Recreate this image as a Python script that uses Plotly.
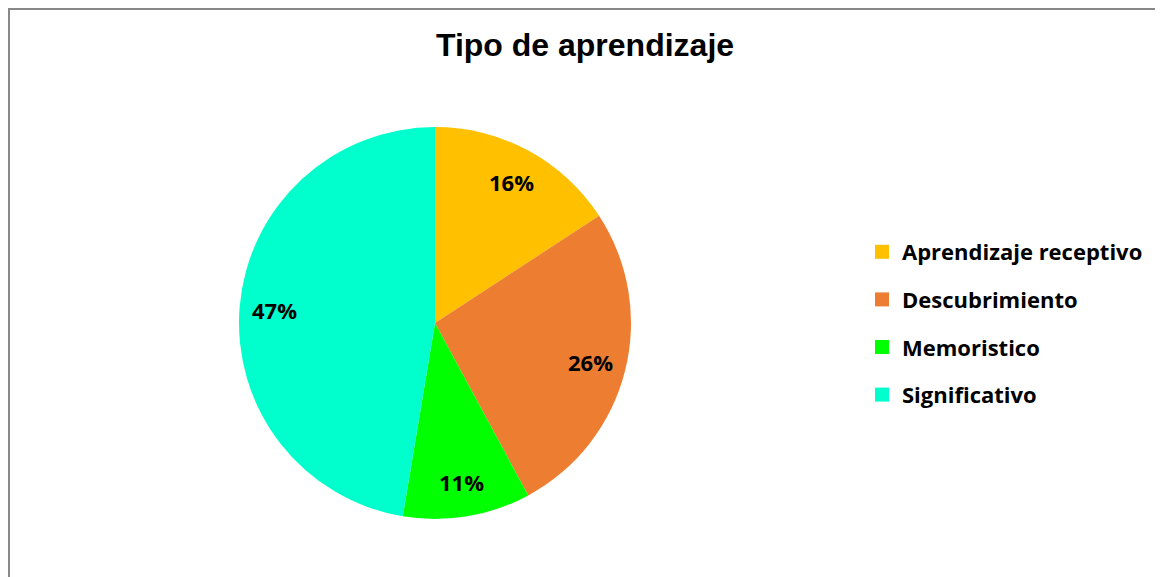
import math
import plotly.graph_objects as go

categories = ["Aprendizaje receptivo", "Descubrimiento", "Memoristico", "Significativo"]
values = [3, 5, 2, 9]
colors = ["#FFC000", "#ED7D31", "#00FF00", "#00FFCC"]
title_text = "Tipo de aprendizaje"

W, H = 1163, 577
OFF = 8  # page body margin offset
cx, cy, r = 435 - OFF, 323 - OFF, 196
label_font = dict(family="Open Sans", size=22, color="black", weight="bold")

fig = go.Figure()
fig.add_trace(go.Pie(
    labels=categories, values=values, sort=False, direction="clockwise",
    rotation=0, marker=dict(colors=colors, line=dict(width=0)),
    textinfo="none", showlegend=False, hoverinfo="label+percent",
    domain=dict(x=[(cx - r) / W, (cx + r) / W], y=[1 - (cy + r) / H, 1 - (cy - r) / H]),
))

# data labels placed along slice bisectors (Excel-style, ~0.82 of radius)
total = sum(values)
annotations = []
cum = 0
for v in values:
    mid = (cum + v / 2) / total
    cum += v
    th = 2 * math.pi * mid
    px = cx + 0.82 * r * math.sin(th)
    py = cy - 0.82 * r * math.cos(th)
    annotations.append(dict(x=px / W, y=1 - py / H, xref="paper", yref="paper",
                            text=f"{round(100 * v / total)}%", showarrow=False,
                            xanchor="center", yanchor="middle", font=label_font))

for cat, col in zip(categories, colors):
    fig.add_trace(go.Scatter(
        x=[None], y=[None], mode="markers", name=cat, legendgroup=cat,
        marker=dict(symbol="square", size=14, color=col),
        showlegend=True,
    ))

fig.update_layout(
    width=W, height=H,
    margin=dict(l=0, r=0, t=0, b=0),
    paper_bgcolor="white", plot_bgcolor="white",
    xaxis=dict(visible=False), yaxis=dict(visible=False),
    title=dict(text=title_text, x=(585 - OFF) / W, y=1 - (45 - OFF) / H, xanchor="center", yanchor="middle",
               font=dict(family="Liberation Sans", size=32, color="black", weight="bold")),
    legend=dict(x=(862 - OFF) / W, y=1 - (231 - OFF) / H, xanchor="left", yanchor="top",
                font=dict(family="Open Sans", size=22, color="black", weight="bold"),
                tracegroupgap=16, bgcolor="rgba(0,0,0,0)"),
    annotations=annotations,
    shapes=[dict(type="rect", xref="paper", yref="paper",
                 x0=1 / W, x1=1.05, y0=-0.05, y1=1 - 1 / H,
                 line=dict(color="#888888", width=2), fillcolor="rgba(0,0,0,0)", layer="below")],
)

fig.write_html("out.html")
